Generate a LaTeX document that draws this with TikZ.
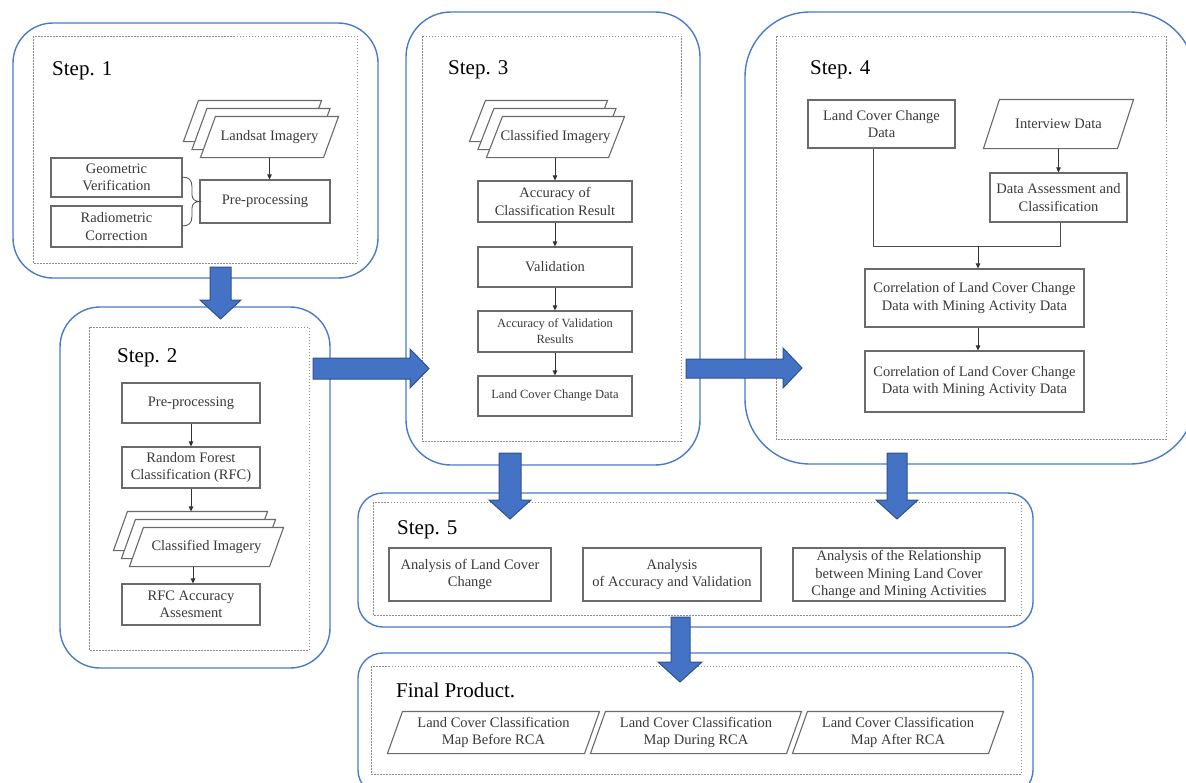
\documentclass[tikz,border=0pt]{standalone}
\usepackage{fontspec}
\setmainfont{Liberation Serif}
\usetikzlibrary{arrows.meta,backgrounds}
\definecolor{frameblue}{HTML}{4A7BC8}
\definecolor{arrowblue}{HTML}{4472C4}
\definecolor{arrowedge}{HTML}{2F528F}
\definecolor{boxgray}{HTML}{6A6A6A}
\definecolor{dotgray}{HTML}{8C8C8C}
\definecolor{txtgray}{HTML}{3A3A3A}
\tikzset{
  frame/.style={draw=frameblue, line width=1.4pt, rounded corners=#1},
  dotbox/.style={draw=dotgray, line width=0.9pt, dash pattern=on 1.5pt off 1.5pt},
  box/.style={draw=boxgray, line width=1.1pt, fill=white, align=center, inner sep=0pt, text=txtgray, font=\fontsize{14.5}{17.3}\selectfont},
  paratext/.style={box, draw=none, fill=none},
  paraline/.style={draw=boxgray, line width=1.1pt, fill=white},
  smalltxt/.style={font=\fontsize{12.5}{16}\selectfont},
  title/.style={anchor=base west, inner sep=0pt, font=\fontsize{21}{25}\selectfont},
  flow/.style={draw=black!80, line width=0.8pt, -{Triangle[length=5pt,width=4.5pt]}},
  conn/.style={draw=black!70, line width=0.8pt},
  blockarrow/.style={fill=arrowblue, draw=arrowedge, line width=1pt, line join=miter},
}
\newcommand\paral[2]{\path[paraline] ([xshift=#2]#1.north west) -- (#1.north east) -- ([xshift=-#2]#1.south east) -- (#1.south west) -- cycle;}
\begin{document}
\begin{tikzpicture}[x=1pt,y=-1pt]
\useasboundingbox (0,0) rectangle (1186,782);
% ---------- frames ----------
\draw[frame=40] (13,23) rectangle (378,278);
\draw[dotbox] (33,36) rectangle (357,263);
\draw[frame=40] (60,307) rectangle (330,668);
\draw[dotbox] (89,327) rectangle (309,650);
\draw[frame=45] (406,12) rectangle (700,465);
\draw[dotbox] (422,36) rectangle (681,441);
\draw[frame=65] (745,12) rectangle (1195,464);
\draw[dotbox] (776,36) rectangle (1166,439);
\draw[frame=25] (358,493) rectangle (1033,627);
\draw[dotbox] (373,502) rectangle (1021,615);
\draw[frame=25] (358,653) rectangle (1033,795);
\draw[dotbox] (371,666) rectangle (1021,774);
% ---------- Step 1 ----------
\node[title] (t1) at (52,75) {Step. 1};
\node[box, minimum width=131, minimum height=39] (gv) at (116.5,177.5) {Geometric\\Verification};
\node[box, minimum width=131, minimum height=41] (rc) at (116.5,226.5) {Radiometric\\Correction};
\node[box, minimum width=130, minimum height=43] (pp1) at (265,201.5) {Pre-processing};
\node[paratext, minimum width=137, minimum height=40] (lsb) at (252.5,121) {};
\node[paratext, minimum width=137, minimum height=40] (lsm) at (261,129) {};
\node[paratext, minimum width=137, minimum height=40] (ls) at (269.5,137) {Landsat Imagery};
\begin{pgfonlayer}{background}
\paral{lsb}{15}\paral{lsm}{15}\paral{ls}{15}
\end{pgfonlayer}
\draw[flow] (ls.south) -- (ls.south |- pp1.north);
\coordinate (bt) at (182,177);
\coordinate (bb) at (182,226);
\draw[conn] (bt) .. controls (189,177) and (192,180) .. (192,187) -- (192,195) .. controls (192,199) and (195,201.5) .. (pp1.west) .. controls (195,201.5) and (192,204) .. (192,208) -- (192,216) .. controls (192,223) and (189,226) .. (bb);
% ---------- Step 2 ----------
\node[title] (t2) at (117,362) {Step. 2};
\node[box, minimum width=138, minimum height=40] (pp2) at (191,403) {Pre-processing};
\node[box, minimum width=138, minimum height=41] (rfc) at (191,467.5) {Random Forest\\Classification (RFC)};
\node[paratext, minimum width=153, minimum height=38] (cib) at (190.5,531) {};
\node[paratext, minimum width=153, minimum height=38] (cim) at (198.5,539) {};
\node[paratext, minimum width=153, minimum height=38] (ci2) at (206.5,547) {Classified Imagery};
\begin{pgfonlayer}{background}
\paral{cib}{14}\paral{cim}{14}\paral{ci2}{14}
\end{pgfonlayer}
\node[box, minimum width=138, minimum height=41] (rfa) at (191,604.5) {RFC Accuracy\\Assesment};
\draw[flow] (pp2.south) -- (rfc.north);
\draw[flow] (rfc.south) -- (rfc.south |- cib.north);
\draw[flow] ([xshift=2pt]rfa.north |- ci2.south) -- ([xshift=2pt]rfa.north);
% ---------- Step 3 ----------
\node[title] (t3) at (448,74) {Step. 3};
\node[paratext, minimum width=137, minimum height=40] (c3b) at (538.5,121) {};
\node[paratext, minimum width=137, minimum height=40] (c3m) at (547,129) {};
\node[paratext, minimum width=137, minimum height=40] (ci3) at (555.5,137) {Classified Imagery};
\begin{pgfonlayer}{background}
\paral{c3b}{16}\paral{c3m}{16}\paral{ci3}{16}
\end{pgfonlayer}
\node[box, minimum width=154, minimum height=41] (ac) at (555,201.5) {Accuracy of\\Classification Result};
\node[box, minimum width=154, minimum height=40] (val) at (555,267) {Validation};
\node[box, smalltxt, minimum width=154, minimum height=41] (av) at (555,331.5) {Accuracy of Validation\\Results};
\node[box, smalltxt, minimum width=154, minimum height=40] (lcc3) at (555,396) {Land Cover Change Data};
\draw[flow] (ac.north |- ci3.south) -- (ac.north);
\draw[flow] (ac.south) -- (val.north);
\draw[flow] (val.south) -- (av.north);
\draw[flow] (av.south) -- (lcc3.north);
% ---------- Step 4 ----------
\node[title] (t4) at (810,74) {Step. 4};
\node[box, minimum width=147, minimum height=48] (lcc4) at (881.5,124) {Land Cover Change\\Data};
\node[paratext, minimum width=149, minimum height=48] (int) at (1058.5,124) {Interview Data};
\begin{pgfonlayer}{background}
\paral{int}{16}
\end{pgfonlayer}
\node[box, minimum width=137, minimum height=49] (da) at (1058.5,197.5) {Data Assessment and\\Classification};
\node[box, minimum width=219, minimum height=58] (cor1) at (974.5,298) {Correlation of Land Cover Change\\Data with Mining Activity Data};
\node[box, minimum width=219, minimum height=61] (cor2) at (974.5,381.5) {Correlation of Land Cover Change\\Data with Mining Activity Data};
\draw[flow] (int.south) -- (da.north);
\coordinate (c1) at (873,246);
\coordinate (c2) at (1060,246);
\coordinate (c3) at (978,246);
\draw[conn] (lcc4.south -| c1) -- (c1) -- (c2) -- (da.south -| c2);
\draw[flow] (c3) -- (c3 |- cor1.north);
\draw[flow] (cor1.south -| c3) -- (cor2.north -| c3);
% ---------- Step 5 ----------
\node[title] (t5) at (397,534) {Step. 5};
\node[box, minimum width=162, minimum height=53] (a1) at (470,574.5) {Analysis of Land Cover\\Change};
\node[box, minimum width=178, minimum height=53] (a2) at (672,574.5) {Analysis\\of Accuracy and Validation};
\node[box, minimum width=212, minimum height=53] (a3) at (899,574.5) {Analysis of the Relationship\\between Mining Land Cover\\Change and Mining Activities};
% ---------- Final ----------
\node[title] (t6) at (396,697) {Final Product.};
\node[paratext, minimum width=211, minimum height=41] (p1) at (493.5,732.5) {Land Cover Classification\\Map Before RCA};
\node[paratext, minimum width=210, minimum height=41] (p2) at (696,732.5) {Land Cover Classification\\Map During RCA};
\node[paratext, minimum width=210, minimum height=41] (p3) at (898,732.5) {Land Cover Classification\\Map After RCA};
\begin{pgfonlayer}{background}
\paral{p1}{15}\paral{p2}{15}\paral{p3}{15}
\end{pgfonlayer}
% ---------- block arrows ----------
\path[blockarrow] (210,267) -- (231,267) -- (231,300) -- (241,300) -- (220.5,319) -- (200,300) -- (210,300) -- cycle;
\path[blockarrow] (313,358) -- (410,358) -- (410,349) -- (429,368.5) -- (410,388) -- (410,379) -- (313,379) -- cycle;
\path[blockarrow] (686,359) -- (783,359) -- (783,348) -- (802,368) -- (783,388) -- (783,378) -- (686,378) -- cycle;
\path[blockarrow] (499,453) -- (521,453) -- (521,500) -- (531,500) -- (510,519) -- (489,500) -- (499,500) -- cycle;
\path[blockarrow] (887,453) -- (907,453) -- (907,500) -- (918,500) -- (897,519) -- (876,500) -- (887,500) -- cycle;
\path[blockarrow] (671,617) -- (690,617) -- (690,662) -- (702,662) -- (680,682) -- (658,662) -- (671,662) -- cycle;
\end{tikzpicture}
\end{document}
